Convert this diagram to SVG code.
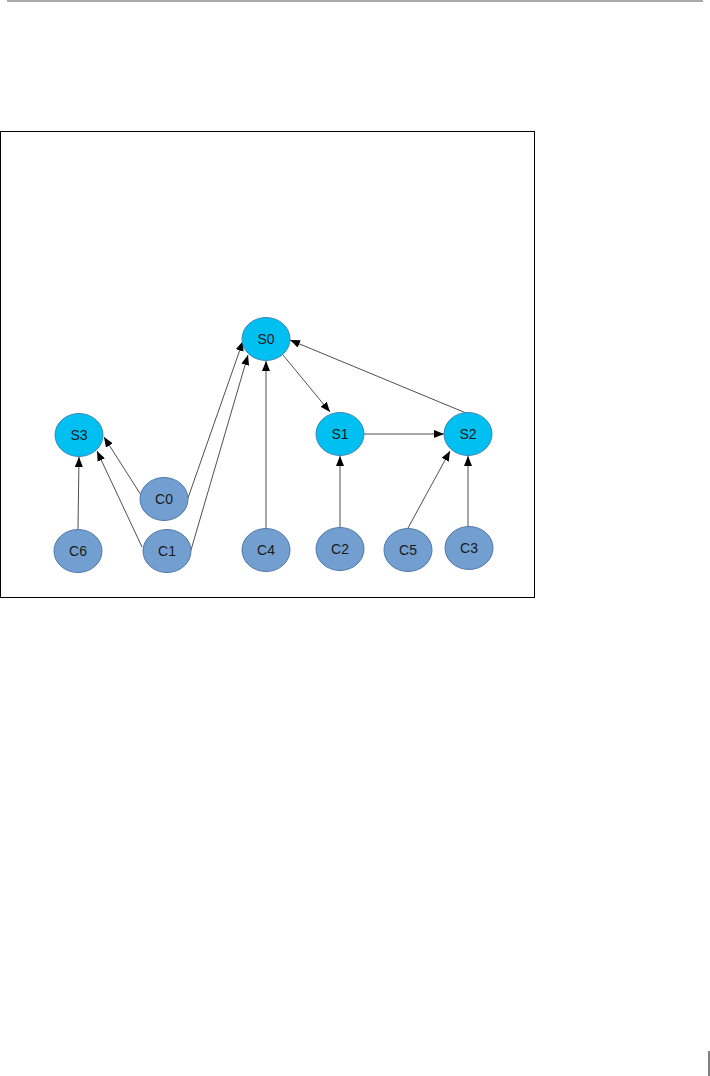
<svg xmlns="http://www.w3.org/2000/svg" width="710" height="1076" viewBox="0 0 710 1076">
<style>
.s ellipse{fill:#00c0f2;stroke:#3b87b8;stroke-width:1}
.c ellipse{fill:#729fcf;stroke:#4f78ad;stroke-width:1}
text{font-family:"Liberation Sans",Arial,sans-serif;font-size:14px;fill:#1a1a1a;text-anchor:middle;dominant-baseline:central}
.e line{stroke:#222;stroke-width:0.8;marker-end:url(#ah)}
</style>
<defs>
<marker id="ah" markerUnits="userSpaceOnUse" markerWidth="10" markerHeight="8" refX="10" refY="4" orient="auto">
<path d="M0,0 L10,4 L0,8 Z" fill="#000"/>
</marker>
</defs>
<rect width="710" height="1076" fill="#fff"/>
<line x1="7" y1="1" x2="703" y2="1" stroke="#555" stroke-width="1.2"/>
<line x1="709" y1="1051" x2="709" y2="1076" stroke="#000" stroke-width="1"/>
<rect x="0.5" y="131.5" width="534" height="466" fill="none" stroke="#000" stroke-width="1"/>
<g id="edges" class="e">
<line x1="188" y1="498" x2="243" y2="341"/>
<line x1="191" y1="550" x2="248" y2="355"/>
<line x1="266" y1="528" x2="266" y2="361"/>
<line x1="141" y1="495" x2="104" y2="437"/>
<line x1="142" y1="547" x2="97" y2="451"/>
<line x1="78" y1="529" x2="79" y2="457"/>
<line x1="283" y1="355" x2="330" y2="412"/>
<line x1="364" y1="434" x2="444" y2="434"/>
<line x1="466" y1="413" x2="290" y2="340"/>
<line x1="340" y1="527" x2="340" y2="456"/>
<line x1="408" y1="528" x2="450" y2="451"/>
<line x1="468" y1="527" x2="468" y2="456"/>
</g>
<g id="S0" class="s"><ellipse cx="266" cy="339" rx="24" ry="21.5"/><text x="266" y="339">S0</text></g>
<g id="S1" class="s"><ellipse cx="340" cy="434" rx="24" ry="21.5"/><text x="340" y="434">S1</text></g>
<g id="S2" class="s"><ellipse cx="468" cy="434" rx="24" ry="21.5"/><text x="468" y="434">S2</text></g>
<g id="S3" class="s"><ellipse cx="79" cy="435" rx="24" ry="21.5"/><text x="79" y="435">S3</text></g>
<g id="C0" class="c"><ellipse cx="164" cy="499" rx="24" ry="21.5"/><text x="164" y="499">C0</text></g>
<g id="C1" class="c"><ellipse cx="167" cy="551" rx="24" ry="21.5"/><text x="167" y="551">C1</text></g>
<g id="C6" class="c"><ellipse cx="78" cy="551" rx="24" ry="21.5"/><text x="78" y="551">C6</text></g>
<g id="C4" class="c"><ellipse cx="266" cy="550" rx="24" ry="21.5"/><text x="266" y="550">C4</text></g>
<g id="C2" class="c"><ellipse cx="340" cy="549" rx="24" ry="21.5"/><text x="340" y="549">C2</text></g>
<g id="C5" class="c"><ellipse cx="408" cy="550" rx="24" ry="21.5"/><text x="408" y="550">C5</text></g>
<g id="C3" class="c"><ellipse cx="469" cy="548" rx="24" ry="21.5"/><text x="469" y="548">C3</text></g>
</svg>
